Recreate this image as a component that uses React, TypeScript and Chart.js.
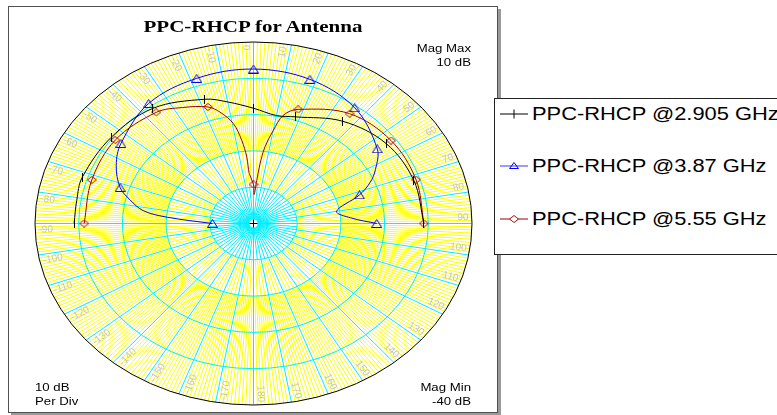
import React, { useEffect, useRef } from 'react';
import { Chart, registerables } from 'chart.js';

Chart.register(...registerables);

// ---------------- data ----------------
const TITLE = 'PPC-RHCP for Antenna';
const SERIES_NAMES = ['PPC-RHCP @2.905 GHz', 'PPC-RHCP @3.87 GHz', 'PPC-RHCP @5.55 GHz'];

const MAG_MIN = -40; // dB at the centre
const MAG_MAX = 10; // dB at the rim
const MAG_DIV = 10; // dB per division

const ANGLE_LABELS = [
  0, 10, 20, 30, 40, 50, 60, 70, 80, 90, 100, 110, 120, 130, 140, 150, 160, 170, 180,
  -10, -20, -30, -40, -50, -60, -70, -80, -90, -100, -110, -120, -130, -140, -150, -160, -170,
];

// PPC-RHCP @2.905 GHz
const angles2905 = [-90, -81, -72, -54, -36, -18, -10, 0, 10, 18, 36, 54, 72, 90];
const db2905 = [1.05, 0.95, 1.2, 0.3, -0.8, -4.0, -6.0, -8.25, -9.8, -9.1, -5.2, -2.5, -1.45, -1.0];

// PPC-RHCP @3.87 GHz
const angles387 = [-90, -85, -82, -77, -72, -63, -54, -36, -18, 0, 18, 36, 54, 62, 67, 72, 80, 86, 90];
const db387 = [-30.6, -20.2, -14.5, -11.0, -7.9, -4.75, -2.5, 0.85, 2.05, 2.55, 1.75, -0.6, -5.0, -8.4, -11.0, -14.5, -20.7, -17.7, -11.8];

// PPC-RHCP @5.55 GHz
const angles555 = [-90, -72, -54, -36, -27, -18, -14, -9.5, -6.7, -4.8, -4, 0, 1, 3.6, 5.2, 7.1, 10, 12.9, 18, 36, 54, 72, 90];
const db555 = [-1.25, -1.1, -0.9, -2.15, -4.15, -6.25, -8.4, -12.1, -16.95, -21.6, -26.2, -29.25, -32.0, -28.1, -23.5, -18.7, -14.0, -9.4, -6.95, -2.6, -1.1, -0.9, -1.0];

const MARKER_STEP = 18; // a marker every 18 degrees

// ---------------- helpers ----------------
const toXY = (angles: number[], dbs: number[]) =>
  angles.map((a, i) => {
    const r = (dbs[i] - MAG_MIN) / (MAG_MAX - MAG_MIN);
    const t = (a * Math.PI) / 180;
    return { x: r * Math.sin(t), y: r * Math.cos(t) };
  });

const isMarker = (a: number) => Math.abs(a % MARKER_STEP) < 1e-9;

const YELLOW = '#ffff00';
const CYAN = '#00eeff';
const BLACK = '#000000';
const BLUE = '#0000ff';
const RED = '#990000';

const polarGrid = {
  id: 'polarGrid',
  beforeDatasetsDraw(chart: any) {
    const { ctx } = chart;
    const xs = chart.scales.x;
    const ys = chart.scales.y;
    const cx = xs.getPixelForValue(0);
    const cy = ys.getPixelForValue(0);
    const rx = xs.getPixelForValue(1) - cx;
    const ry = cy - ys.getPixelForValue(1);
    const P = (r: number, deg: number) => {
      const t = (deg * Math.PI) / 180;
      return [cx + rx * r * Math.sin(t), cy - ry * r * Math.cos(t)];
    };
    const nDiv = (MAG_MAX - MAG_MIN) / MAG_DIV;
    const rDiv = 1 / nDiv;

    ctx.save();
    ctx.lineWidth = 1;
    const spokes = (color: string, r0: number, r1: number, step: number, skip: number) => {
      ctx.beginPath();
      ctx.strokeStyle = color;
      for (let k = 0; k * step < 360 - 1e-9; k++) {
        const a = k * step;
        if (skip && Math.abs(a / skip - Math.round(a / skip)) < 1e-9) continue;
        const [x0, y0] = P(r0, a);
        const [x1, y1] = P(r1, a);
        ctx.moveTo(x0, y0);
        ctx.lineTo(x1, y1);
      }
      ctx.stroke();
    };
    spokes(YELLOW, rDiv, 2 * rDiv, 2.5, 10);
    spokes(YELLOW, 2 * rDiv, 1, 1, 10);
    spokes(CYAN, 0, rDiv, 5, 0);
    spokes(CYAN, rDiv, 1, 10, 0);

    // magnitude rings
    ctx.strokeStyle = CYAN;
    for (let i = 1; i < nDiv; i++) {
      ctx.beginPath();
      ctx.ellipse(cx, cy, rx * i * rDiv, ry * i * rDiv, 0, 0, Math.PI * 2);
      ctx.stroke();
    }
    // rim
    ctx.strokeStyle = '#000';
    ctx.beginPath();
    ctx.ellipse(cx, cy, rx, ry, 0, 0, Math.PI * 2);
    ctx.stroke();

    // angle labels
    ctx.fillStyle = '#c4c4c4';
    ctx.font = '10px "Liberation Sans", Arial, sans-serif';
    ctx.textBaseline = 'middle';
    for (const a of ANGLE_LABELS) {
      const [px, py] = P(0.985, a - 2);
      const phi = Math.atan2(py - cy, px - cx);
      let rot: number;
      let align: CanvasTextAlign;
      if (phi > -Math.PI / 2 && phi <= Math.PI / 2) {
        rot = phi;
        align = 'right';
      } else {
        rot = phi + Math.PI;
        align = 'left';
      }
      ctx.save();
      ctx.translate(px, py);
      ctx.rotate(rot);
      ctx.textAlign = align;
      ctx.fillText(String(a), 0, 0);
      ctx.restore();
    }

    // centre cross
    ctx.fillStyle = '#ffffff';
    ctx.beginPath();
    ctx.arc(cx, cy, 4, 0, Math.PI * 2);
    ctx.fill();
    ctx.strokeStyle = '#000';
    ctx.beginPath();
    ctx.moveTo(cx - 4, cy);
    ctx.lineTo(cx + 4, cy);
    ctx.moveTo(cx, cy - 4);
    ctx.lineTo(cx, cy + 4);
    ctx.stroke();
    ctx.restore();
  },
};

function makeCanvas(w: number, h: number, draw: (c: CanvasRenderingContext2D) => void) {
  const c = document.createElement('canvas');
  c.width = w;
  c.height = h;
  const g = c.getContext('2d')!;
  draw(g);
  return c;
}

const Tick = () => (
  <svg width="28" height="20" style={{ display: 'block' }}>
    <line x1="0" y1="10" x2="28" y2="10" stroke={BLACK} strokeWidth="1" />
    <line x1="14" y1="5.5" x2="14" y2="14.5" stroke={BLACK} strokeWidth="1" />
  </svg>
);
const Tri = () => (
  <svg width="28" height="20" style={{ display: 'block' }}>
    <line x1="0" y1="10" x2="28" y2="10" stroke="#5a5aff" strokeWidth="1.2" />
    <polygon points="14,6.5 9.5,12.5 18.5,12.5" fill="none" stroke={BLUE} strokeWidth="1" />
  </svg>
);
const Dia = () => (
  <svg width="28" height="20" style={{ display: 'block' }}>
    <line x1="0" y1="10" x2="28" y2="10" stroke={RED} strokeWidth="1" />
    <polygon points="14,6.5 18.5,10 14,13.5 9.5,10" fill="#fff" stroke="#b01010" strokeWidth="1" />
  </svg>
);

export default function App() {
  const ref = useRef<HTMLCanvasElement>(null);

  useEffect(() => {
    const canvas = ref.current!;
    const tick = makeCanvas(1, 9, (g) => {
      g.fillStyle = BLACK;
      g.fillRect(0, 0, 1, 9);
    });
    const tri = makeCanvas(11, 9, (g) => {
      g.strokeStyle = BLUE;
      g.lineWidth = 1;
      g.beginPath();
      g.moveTo(5.5, 0.5);
      g.lineTo(10.5, 8.5);
      g.lineTo(0.5, 8.5);
      g.closePath();
      g.stroke();
    });
    const dia = makeCanvas(10, 8, (g) => {
      g.strokeStyle = '#b01010';
      g.lineWidth = 1;
      g.beginPath();
      g.moveTo(5, 0.5);
      g.lineTo(9.5, 4);
      g.lineTo(5, 7.5);
      g.lineTo(0.5, 4);
      g.closePath();
      g.stroke();
    });

    const mk = (label: string, angles: number[], dbs: number[], color: string, style: HTMLCanvasElement) => ({
      label,
      data: toXY(angles, dbs),
      showLine: true,
      borderColor: color,
      backgroundColor: color,
      borderWidth: 1,
      tension: 0.35,
      pointStyle: style,
      pointRadius: (c: any) => (isMarker(angles[c.dataIndex]) ? 4 : 0),
      clip: false as any,
    });

    const chart = new Chart(canvas, {
      type: 'scatter',
      data: {
        datasets: [
          mk(SERIES_NAMES[0], angles2905, db2905, BLACK, tick),
          mk(SERIES_NAMES[1], angles387, db387, BLUE, tri),
          mk(SERIES_NAMES[2], angles555, db555, RED, dia),
        ],
      },
      options: {
        animation: false,
        responsive: false,
        devicePixelRatio: 1,
        events: [],
        layout: { padding: { left: 35, top: 42, right: 305, bottom: 10 } },
        scales: {
          x: { type: 'linear', min: -1, max: 1, display: false },
          y: { type: 'linear', min: -1, max: 1, display: false },
        },
        plugins: {
          legend: { display: false },
          title: { display: false },
          tooltip: { enabled: false },
        },
      },
      plugins: [polarGrid],
    } as any);
    return () => chart.destroy();
  }, []);

  const sans = '"Liberation Sans", Arial, Helvetica, sans-serif';
  const small: React.CSSProperties = {
    position: 'absolute',
    fontFamily: sans,
    fontSize: 11,
    lineHeight: '14px',
    color: '#000',
    whiteSpace: 'nowrap',
  };
  const legendText: React.CSSProperties = {
    position: 'absolute',
    left: 37,
    fontFamily: sans,
    fontSize: 17.5,
    lineHeight: '20px',
    whiteSpace: 'nowrap',
    transform: 'scaleX(1.25)',
    transformOrigin: 'left center',
    color: '#000',
  };

  return (
    <div style={{ position: 'absolute', left: 0, top: 0, width: 777, height: 415, overflow: 'hidden', background: '#fff' }}>
      <div
        style={{
          position: 'absolute',
          left: 8,
          top: 6,
          width: 490,
          height: 407,
          boxSizing: 'border-box',
          border: '1px solid #505050',
          boxShadow: '3px 3px 0 #9a9a9a',
          background: '#fff',
        }}
      />
      <canvas ref={ref} width={777} height={415} style={{ position: 'absolute', left: 0, top: 0 }} />
      <div
        style={{
          position: 'absolute',
          left: 53,
          top: 16.4,
          width: 400,
          textAlign: 'center',
          fontFamily: '"Liberation Serif", "Times New Roman", serif',
          fontWeight: 'bold',
          fontSize: 17.5,
          lineHeight: '20px',
          transform: 'scaleX(1.2)',
          whiteSpace: 'nowrap',
        }}
      >
        {TITLE}
      </div>
      <div style={{ ...small, left: 371, top: 41.2, width: 100, textAlign: 'right', transform: 'scaleX(1.2)', transformOrigin: 'right center' }}>
        Mag Max
        <br />
        {MAG_MAX} dB
      </div>
      <div style={{ ...small, left: 35, top: 380.2, transform: 'scaleX(1.2)', transformOrigin: 'left center' }}>
        {MAG_DIV} dB
        <br />
        Per Div
      </div>
      <div style={{ ...small, left: 371, top: 380.2, width: 100, textAlign: 'right', transform: 'scaleX(1.2)', transformOrigin: 'right center' }}>
        Mag Min
        <br />
        {MAG_MIN} dB
      </div>
      <div
        style={{
          position: 'absolute',
          left: 494,
          top: 98,
          width: 320,
          height: 157,
          boxSizing: 'border-box',
          border: '1px solid #222',
          background: '#fff',
        }}
      >
        <div style={{ position: 'absolute', left: 5, top: 5 }}>
          <Tick />
        </div>
        <div style={{ ...legendText, top: 5 }}>{SERIES_NAMES[0]}</div>
        <div style={{ position: 'absolute', left: 5, top: 56.5 }}>
          <Tri />
        </div>
        <div style={{ ...legendText, top: 56.6 }}>{SERIES_NAMES[1]}</div>
        <div style={{ position: 'absolute', left: 5, top: 109.5 }}>
          <Dia />
        </div>
        <div style={{ ...legendText, top: 110.2 }}>{SERIES_NAMES[2]}</div>
      </div>
    </div>
  );
}
